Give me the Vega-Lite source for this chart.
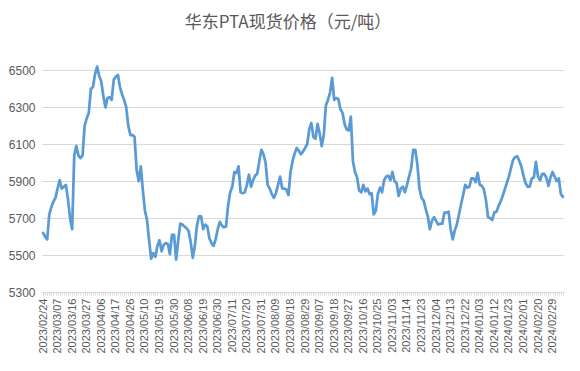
{
  "$schema": "https://vega.github.io/schema/vega-lite/v6.json",
  "width": 522,
  "height": 229,
  "autosize": {"type": "none"},
  "padding": {"left": 42, "top": 63, "right": 16, "bottom": 79},
  "background": "white",
  "title": {
    "text": "华东PTA现货价格（元/吨）",
    "font": "Noto Sans CJK SC",
    "fontSize": 17,
    "fontWeight": "normal",
    "color": "#595959",
    "anchor": "middle",
    "dx": -15,
    "offset": 31
  },
  "config": {"view": {"stroke": null}},
  "data": {
    "values": [
      {"date": "2023/02/24", "price": 5620}, {"date": "2023/02/27", "price": 5600}, {"date": "2023/02/28", "price": 5585},
      {"date": "2023/03/01", "price": 5720}, {"date": "2023/03/02", "price": 5760}, {"date": "2023/03/03", "price": 5790},
      {"date": "2023/03/06", "price": 5810}, {"date": "2023/03/07", "price": 5860}, {"date": "2023/03/08", "price": 5905},
      {"date": "2023/03/09", "price": 5860}, {"date": "2023/03/10", "price": 5870}, {"date": "2023/03/13", "price": 5880},
      {"date": "2023/03/14", "price": 5800}, {"date": "2023/03/15", "price": 5700}, {"date": "2023/03/16", "price": 5640},
      {"date": "2023/03/17", "price": 6040}, {"date": "2023/03/20", "price": 6090}, {"date": "2023/03/21", "price": 6040},
      {"date": "2023/03/22", "price": 6025}, {"date": "2023/03/23", "price": 6040}, {"date": "2023/03/24", "price": 6200},
      {"date": "2023/03/27", "price": 6240}, {"date": "2023/03/28", "price": 6270}, {"date": "2023/03/29", "price": 6400},
      {"date": "2023/03/30", "price": 6410}, {"date": "2023/03/31", "price": 6480}, {"date": "2023/04/03", "price": 6520},
      {"date": "2023/04/04", "price": 6470}, {"date": "2023/04/06", "price": 6440}, {"date": "2023/04/07", "price": 6360},
      {"date": "2023/04/10", "price": 6300}, {"date": "2023/04/11", "price": 6350}, {"date": "2023/04/12", "price": 6355},
      {"date": "2023/04/13", "price": 6340}, {"date": "2023/04/14", "price": 6450}, {"date": "2023/04/17", "price": 6465},
      {"date": "2023/04/18", "price": 6475}, {"date": "2023/04/19", "price": 6410}, {"date": "2023/04/20", "price": 6370},
      {"date": "2023/04/21", "price": 6340}, {"date": "2023/04/24", "price": 6300}, {"date": "2023/04/25", "price": 6200},
      {"date": "2023/04/26", "price": 6150}, {"date": "2023/04/27", "price": 6150}, {"date": "2023/04/28", "price": 6140},
      {"date": "2023/05/04", "price": 5960}, {"date": "2023/05/05", "price": 5900}, {"date": "2023/05/08", "price": 5980},
      {"date": "2023/05/09", "price": 5850}, {"date": "2023/05/10", "price": 5740}, {"date": "2023/05/11", "price": 5690},
      {"date": "2023/05/12", "price": 5580}, {"date": "2023/05/15", "price": 5480}, {"date": "2023/05/16", "price": 5510},
      {"date": "2023/05/17", "price": 5490}, {"date": "2023/05/18", "price": 5550}, {"date": "2023/05/19", "price": 5580},
      {"date": "2023/05/22", "price": 5520}, {"date": "2023/05/23", "price": 5555}, {"date": "2023/05/24", "price": 5565},
      {"date": "2023/05/25", "price": 5560}, {"date": "2023/05/26", "price": 5505}, {"date": "2023/05/29", "price": 5610},
      {"date": "2023/05/30", "price": 5610}, {"date": "2023/05/31", "price": 5475}, {"date": "2023/06/01", "price": 5580},
      {"date": "2023/06/02", "price": 5670}, {"date": "2023/06/05", "price": 5665}, {"date": "2023/06/06", "price": 5655},
      {"date": "2023/06/07", "price": 5645}, {"date": "2023/06/08", "price": 5630}, {"date": "2023/06/09", "price": 5570},
      {"date": "2023/06/12", "price": 5485}, {"date": "2023/06/13", "price": 5550}, {"date": "2023/06/14", "price": 5660},
      {"date": "2023/06/15", "price": 5710}, {"date": "2023/06/16", "price": 5710}, {"date": "2023/06/19", "price": 5640},
      {"date": "2023/06/20", "price": 5665}, {"date": "2023/06/21", "price": 5655}, {"date": "2023/06/26", "price": 5590},
      {"date": "2023/06/27", "price": 5565}, {"date": "2023/06/28", "price": 5550}, {"date": "2023/06/29", "price": 5585},
      {"date": "2023/06/30", "price": 5640}, {"date": "2023/07/03", "price": 5680}, {"date": "2023/07/04", "price": 5660},
      {"date": "2023/07/05", "price": 5650}, {"date": "2023/07/06", "price": 5655}, {"date": "2023/07/07", "price": 5770},
      {"date": "2023/07/10", "price": 5840}, {"date": "2023/07/11", "price": 5870}, {"date": "2023/07/12", "price": 5950},
      {"date": "2023/07/13", "price": 5945}, {"date": "2023/07/14", "price": 5980}, {"date": "2023/07/17", "price": 5840},
      {"date": "2023/07/18", "price": 5835}, {"date": "2023/07/19", "price": 5840}, {"date": "2023/07/20", "price": 5880},
      {"date": "2023/07/21", "price": 5935}, {"date": "2023/07/24", "price": 5870}, {"date": "2023/07/25", "price": 5905},
      {"date": "2023/07/26", "price": 5930}, {"date": "2023/07/27", "price": 5940}, {"date": "2023/07/28", "price": 6010},
      {"date": "2023/07/31", "price": 6070}, {"date": "2023/08/01", "price": 6045}, {"date": "2023/08/02", "price": 6000},
      {"date": "2023/08/03", "price": 5880}, {"date": "2023/08/04", "price": 5860}, {"date": "2023/08/07", "price": 5830},
      {"date": "2023/08/08", "price": 5810}, {"date": "2023/08/09", "price": 5835}, {"date": "2023/08/10", "price": 5880},
      {"date": "2023/08/11", "price": 5925}, {"date": "2023/08/14", "price": 5860}, {"date": "2023/08/15", "price": 5860},
      {"date": "2023/08/16", "price": 5855}, {"date": "2023/08/17", "price": 5825}, {"date": "2023/08/18", "price": 5950},
      {"date": "2023/08/21", "price": 6010}, {"date": "2023/08/22", "price": 6050}, {"date": "2023/08/23", "price": 6080},
      {"date": "2023/08/24", "price": 6065}, {"date": "2023/08/25", "price": 6045}, {"date": "2023/08/28", "price": 6060},
      {"date": "2023/08/29", "price": 6080}, {"date": "2023/08/30", "price": 6100}, {"date": "2023/08/31", "price": 6180},
      {"date": "2023/09/01", "price": 6215}, {"date": "2023/09/04", "price": 6140}, {"date": "2023/09/05", "price": 6130},
      {"date": "2023/09/06", "price": 6210}, {"date": "2023/09/07", "price": 6160}, {"date": "2023/09/08", "price": 6090},
      {"date": "2023/09/11", "price": 6150}, {"date": "2023/09/12", "price": 6310}, {"date": "2023/09/13", "price": 6340},
      {"date": "2023/09/14", "price": 6380}, {"date": "2023/09/15", "price": 6460}, {"date": "2023/09/18", "price": 6340},
      {"date": "2023/09/19", "price": 6350}, {"date": "2023/09/20", "price": 6345}, {"date": "2023/09/21", "price": 6290},
      {"date": "2023/09/22", "price": 6270}, {"date": "2023/09/25", "price": 6210}, {"date": "2023/09/26", "price": 6180},
      {"date": "2023/09/27", "price": 6175}, {"date": "2023/09/28", "price": 6250}, {"date": "2023/10/09", "price": 6010},
      {"date": "2023/10/10", "price": 5950}, {"date": "2023/10/11", "price": 5920}, {"date": "2023/10/12", "price": 5850},
      {"date": "2023/10/13", "price": 5840}, {"date": "2023/10/16", "price": 5880}, {"date": "2023/10/17", "price": 5845},
      {"date": "2023/10/18", "price": 5860}, {"date": "2023/10/19", "price": 5830}, {"date": "2023/10/20", "price": 5835},
      {"date": "2023/10/23", "price": 5720}, {"date": "2023/10/24", "price": 5740}, {"date": "2023/10/25", "price": 5830},
      {"date": "2023/10/26", "price": 5865}, {"date": "2023/10/27", "price": 5840}, {"date": "2023/10/30", "price": 5905},
      {"date": "2023/10/31", "price": 5925}, {"date": "2023/11/01", "price": 5930}, {"date": "2023/11/02", "price": 5905},
      {"date": "2023/11/03", "price": 5950}, {"date": "2023/11/06", "price": 5900}, {"date": "2023/11/07", "price": 5890},
      {"date": "2023/11/08", "price": 5820}, {"date": "2023/11/09", "price": 5860}, {"date": "2023/11/10", "price": 5870},
      {"date": "2023/11/13", "price": 5840}, {"date": "2023/11/14", "price": 5880}, {"date": "2023/11/15", "price": 5925},
      {"date": "2023/11/16", "price": 5970}, {"date": "2023/11/17", "price": 6070}, {"date": "2023/11/20", "price": 6070},
      {"date": "2023/11/21", "price": 5990}, {"date": "2023/11/22", "price": 5860}, {"date": "2023/11/23", "price": 5810},
      {"date": "2023/11/24", "price": 5795}, {"date": "2023/11/27", "price": 5750}, {"date": "2023/11/28", "price": 5710},
      {"date": "2023/11/29", "price": 5640}, {"date": "2023/11/30", "price": 5685}, {"date": "2023/12/01", "price": 5705},
      {"date": "2023/12/04", "price": 5685}, {"date": "2023/12/05", "price": 5665}, {"date": "2023/12/06", "price": 5670},
      {"date": "2023/12/07", "price": 5670}, {"date": "2023/12/08", "price": 5730}, {"date": "2023/12/11", "price": 5730},
      {"date": "2023/12/12", "price": 5735}, {"date": "2023/12/13", "price": 5640}, {"date": "2023/12/14", "price": 5585},
      {"date": "2023/12/15", "price": 5635}, {"date": "2023/12/18", "price": 5665}, {"date": "2023/12/19", "price": 5720},
      {"date": "2023/12/20", "price": 5775}, {"date": "2023/12/21", "price": 5825}, {"date": "2023/12/22", "price": 5880},
      {"date": "2023/12/25", "price": 5865}, {"date": "2023/12/26", "price": 5870}, {"date": "2023/12/27", "price": 5915},
      {"date": "2023/12/28", "price": 5915}, {"date": "2023/12/29", "price": 5895}, {"date": "2024/01/02", "price": 5945},
      {"date": "2024/01/03", "price": 5880}, {"date": "2024/01/04", "price": 5875}, {"date": "2024/01/05", "price": 5855},
      {"date": "2024/01/08", "price": 5795}, {"date": "2024/01/09", "price": 5705}, {"date": "2024/01/10", "price": 5700},
      {"date": "2024/01/11", "price": 5690}, {"date": "2024/01/12", "price": 5730}, {"date": "2024/01/15", "price": 5735},
      {"date": "2024/01/16", "price": 5765}, {"date": "2024/01/17", "price": 5790}, {"date": "2024/01/18", "price": 5820},
      {"date": "2024/01/19", "price": 5855}, {"date": "2024/01/22", "price": 5890}, {"date": "2024/01/23", "price": 5925},
      {"date": "2024/01/24", "price": 5970}, {"date": "2024/01/25", "price": 6015}, {"date": "2024/01/26", "price": 6030},
      {"date": "2024/01/29", "price": 6035}, {"date": "2024/01/30", "price": 6010}, {"date": "2024/01/31", "price": 5980},
      {"date": "2024/02/01", "price": 5930}, {"date": "2024/02/02", "price": 5890}, {"date": "2024/02/05", "price": 5870},
      {"date": "2024/02/06", "price": 5870}, {"date": "2024/02/07", "price": 5915}, {"date": "2024/02/08", "price": 5920},
      {"date": "2024/02/19", "price": 6005}, {"date": "2024/02/20", "price": 5925}, {"date": "2024/02/21", "price": 5905},
      {"date": "2024/02/22", "price": 5940}, {"date": "2024/02/23", "price": 5940}, {"date": "2024/02/26", "price": 5920},
      {"date": "2024/02/27", "price": 5875}, {"date": "2024/02/28", "price": 5920}, {"date": "2024/02/29", "price": 5950},
      {"date": "2024/03/01", "price": 5925}, {"date": "2024/03/04", "price": 5900}, {"date": "2024/03/05", "price": 5915},
      {"date": "2024/03/06", "price": 5830}, {"date": "2024/03/07", "price": 5815}
    ]
  },
  "mark": {"type": "line", "color": "#5B9BD5", "strokeWidth": 2.75, "strokeJoin": "round", "strokeCap": "round"},
  "encoding": {
    "x": {
      "field": "date",
      "type": "ordinal",
      "sort": null,
      "scale": {"type": "point", "padding": 0.5},
      "axis": {
        "title": null,
        "grid": false,
        "domainColor": "#d9d9d9",
        "tickColor": "#d9d9d9",
        "tickSize": 3,
        "labelAngle": -90,
        "labelPadding": 3,
        "labelOverlap": false,
        "labelFont": "Liberation Sans",
        "labelFontSize": 11,
        "labelColor": "#595959",
        "labelExpr": "indexof(['2023/02/24','2023/03/07','2023/03/16','2023/03/27','2023/04/06','2023/04/17','2023/04/26','2023/05/10','2023/05/19','2023/05/30','2023/06/08','2023/06/19','2023/06/30','2023/07/11','2023/07/20','2023/07/31','2023/08/09','2023/08/18','2023/08/29','2023/09/07','2023/09/18','2023/09/27','2023/10/16','2023/10/25','2023/11/03','2023/11/14','2023/11/23','2023/12/04','2023/12/13','2023/12/22','2024/01/03','2024/01/12','2024/01/23','2024/02/01','2024/02/20','2024/02/29'], datum.value) >= 0 ? datum.value : ''"
      }
    },
    "y": {
      "field": "price",
      "type": "quantitative",
      "scale": {"domain": [5300, 6540], "nice": false, "zero": false},
      "axis": {
        "title": null,
        "format": "d",
        "values": [5300, 5500, 5700, 5900, 6100, 6300, 6500],
        "domain": false,
        "ticks": false,
        "tickSize": 0,
        "labelPadding": 7,
        "gridColor": "#d9d9d9",
        "gridWidth": 1,
        "labelFont": "Liberation Sans",
        "labelFontSize": 12,
        "labelColor": "#595959"
      }
    }
  }
}
